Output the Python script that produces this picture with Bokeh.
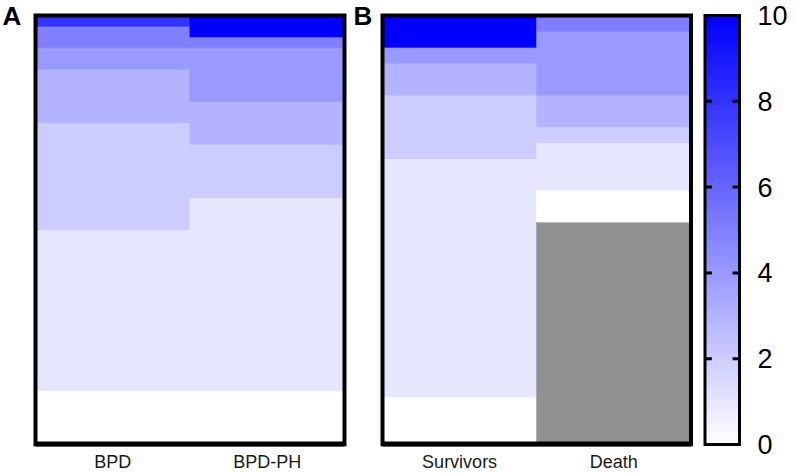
import numpy as np
from bokeh.plotting import figure
from bokeh.models import ColumnDataSource, Range1d, LinearColorMapper, FixedTicker
from bokeh.core.properties import value
from bokeh.layouts import row
from bokeh.transform import transform
from bokeh.embed import file_html
from bokeh.resources import INLINE

# ---------------- data ----------------
score_levels = [0, 1, 2, 3, 4, 5, 6, 7, 8, 9, 10]

panel_a_groups = ["BPD", "BPD-PH"]
bpd_counts = [5, 15, 10, 5, 2, 2, 0, 0, 1, 0, 0]
bpd_ph_counts = [5, 18, 5, 4, 5, 1, 0, 0, 0, 0, 2]
panel_a_missing = [0, 0]

panel_b_groups = ["Survivors", "Death"]
survivors_counts = [3, 15, 4, 2, 1, 0, 0, 0, 0, 0, 2]
death_counts = [2, 3, 1, 2, 4, 1, 0, 0, 0, 0, 0]
panel_b_missing = [0, 14]

colorbar_ticks = [0, 2, 4, 6, 8, 10]
panel_letters = ["A", "B"]

# ---------------- styling / layout constants (pixels) ----------------
palette = ["#%02x%02xff" % (c, c) for c in np.linspace(255, 0, 256).round().astype(int)]
mapper = LinearColorMapper(palette=palette, low=0, high=10, nan_color="#919191")

H = 474
BOT = 26
FRAME_H = H - BOT
Y_TOP_PX = 15      # where the top data edge sits
Y_BOT_PX = 446     # where the bottom data edge sits
LABEL_FONT = "Liberation Sans"


def y_range_for(n):
    per = (Y_BOT_PX - Y_TOP_PX) / n
    return Range1d(-(FRAME_H - Y_BOT_PX) / per, n + Y_TOP_PX / per)


def x_range_for(n, fig_left, data_left, data_right, fig_right):
    per = (data_right - data_left) / n
    return Range1d(-(data_left - fig_left) / per, n + (fig_right - data_right) / per)


def base_fig(width, x_range, y_range, right_border=0, **kw):
    p = figure(width=width, height=H, output_backend="svg", toolbar_location=None,
               title=None, min_border=0, min_border_left=0, min_border_right=right_border,
               min_border_top=0, min_border_bottom=BOT,
               x_range=x_range, y_range=y_range, **kw)
    p.xgrid.visible = False
    p.ygrid.visible = False
    p.outline_line_color = None
    p.background_fill_color = "white"
    p.border_fill_color = "white"
    return p


def build_source(counts_list, missing_list):
    xs, bottoms, tops, vals = [], [], [], []
    for i, (counts, miss) in enumerate(zip(counts_list, missing_list)):
        base = 0
        if miss:
            xs.append(i + 0.5); bottoms.append(0); tops.append(miss); vals.append(np.nan)
            base = miss
        for lvl, c in zip(score_levels, counts):
            if c:
                xs.append(i + 0.5); bottoms.append(base); tops.append(base + c)
                vals.append(float(lvl))
                base += c
    return ColumnDataSource(dict(x=np.array(xs, dtype=float),
                                 bottom=np.array(bottoms, dtype=float),
                                 top=np.array(tops, dtype=float),
                                 value=np.array(vals, dtype=float))), base


def letter(p, x, y, text, dx):
    p.text(x=[x], y=[y], text=[text], x_offset=dx, text_font=value("Liberation Sans"),
           text_font_style="bold", text_font_size="26px", text_baseline="top",
           text_align="left", text_color="black")


def panel(groups, counts_list, missing_list, fig_left, data_left, data_right, fig_right):
    src, n_rows = build_source(counts_list, missing_list)
    n = len(groups)
    xr = x_range_for(n, fig_left, data_left, data_right, fig_right)
    yr = y_range_for(n_rows)
    p = base_fig(int(round(fig_right - fig_left)), xr, yr, y_axis_location=None)
    p.vbar(x="x", bottom="bottom", top="top", width=1.0, source=src,
           fill_color=transform("value", mapper), line_color=transform("value", mapper),
           line_width=0.8)
    # panel frame
    p.quad(left=[0], right=[n], bottom=[0], top=[n_rows], fill_color=None,
           line_color="black", line_width=4, line_join="miter")
    p.segment(x0=[0], x1=[n], y0=[0], y1=[0], line_color="black", line_width=6)
    ax = p.xaxis[0]
    ax.ticker = FixedTicker(ticks=[i + 0.5 for i in range(n)])
    ax.major_label_overrides = {i + 0.5: g for i, g in enumerate(groups)}
    ax.axis_line_color = None
    ax.major_tick_line_color = None
    ax.major_tick_in = 0
    ax.major_tick_out = 0
    ax.minor_tick_line_color = None
    ax.major_label_standoff = 5
    ax.major_label_text_font = LABEL_FONT
    ax.major_label_text_font_size = "18px"
    ax.major_label_text_color = "#1a1a1a"
    return p, xr, yr, n, n_rows


pa, xra, yra, na, rows_a = panel(panel_a_groups, [bpd_counts, bpd_ph_counts], panel_a_missing,
                                 0, 35, 344, 377)
letter(pa, xra.start, yra.end, panel_letters[0], 2)
letter(pa, na, yra.end, panel_letters[1], 9)

pb, xrb, yrb, nb, rows_b = panel(panel_b_groups, [survivors_counts, death_counts],
                                 panel_b_missing, 377, 382, 690.5, 696)

# ---------------- colour bar ----------------
cb_xr = x_range_for(1, 696, 704.5, 739, 745)
cb_yr = Range1d(-(FRAME_H - Y_BOT_PX) * 10 / (Y_BOT_PX - Y_TOP_PX),
                10 + Y_TOP_PX * 10 / (Y_BOT_PX - Y_TOP_PX))
pc = base_fig(100, cb_xr, cb_yr, right_border=51,
              y_axis_location="right", x_axis_location=None)
gradient = np.linspace(0, 10, 256).reshape(256, 1)
pc.image(image=[gradient], x=0, y=0, dw=1, dh=10, color_mapper=mapper)
inner_ticks = colorbar_ticks[1:-1]
tick_len = 0.2
pc.segment(x0=[0] * len(inner_ticks), x1=[tick_len] * len(inner_ticks),
           y0=inner_ticks, y1=inner_ticks, line_color="black", line_width=3)
pc.segment(x0=[1 - tick_len] * len(inner_ticks), x1=[1] * len(inner_ticks),
           y0=inner_ticks, y1=inner_ticks, line_color="black", line_width=3)
pc.quad(left=[0], right=[1], bottom=[0], top=[10], fill_color=None,
        line_color="black", line_width=3, line_join="miter")
ra = pc.yaxis[0]
ra.ticker = FixedTicker(ticks=colorbar_ticks)
ra.axis_line_color = None
ra.major_tick_line_color = None
ra.major_tick_in = 0
ra.major_tick_out = 0
ra.minor_tick_line_color = None
ra.major_label_standoff = 12
ra.major_label_text_font = LABEL_FONT
ra.major_label_text_font_size = "27px"
ra.major_label_text_color = "black"

layout = row(pa, pb, pc)
open("out.html", "w").write(file_html(layout, INLINE))
